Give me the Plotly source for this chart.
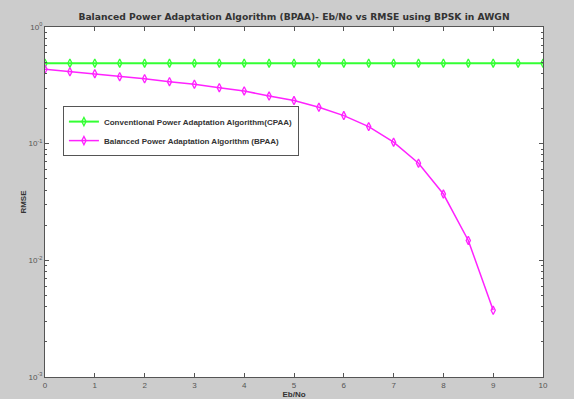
import plotly.graph_objects as go

ebno_cpaa = [0, 0.5, 1, 1.5, 2, 2.5, 3, 3.5, 4, 4.5, 5, 5.5, 6, 6.5, 7, 7.5, 8, 8.5, 9, 9.5, 10]
rmse_cpaa = [0.49] * 21
ebno_bpaa = [0, 0.5, 1, 1.5, 2, 2.5, 3, 3.5, 4, 4.5, 5, 5.5, 6, 6.5, 7, 7.5, 8, 8.5, 9]
rmse_bpaa = [0.434, 0.414, 0.398, 0.375, 0.36, 0.34, 0.323, 0.302, 0.283, 0.256,
             0.234, 0.205, 0.174, 0.14, 0.103, 0.068, 0.037, 0.0148, 0.00373]
x_ticks = list(range(0, 11))
y_tickvals = [1e-3, 1e-2, 1e-1, 1]
y_ticktext = ["10<sup>-3</sup>", "10<sup>-2</sup>", "10<sup>-1</sup>", "10<sup>0</sup>"]
y_minor = [m * d for d in (1e-3, 1e-2, 1e-1) for m in range(2, 10)]

fig = go.Figure()
fig.add_trace(go.Scatter(
    x=ebno_cpaa, y=rmse_cpaa, mode="lines+markers",
    name="<b>Conventional Power Adaptation Algorithm(CPAA)</b>",
    line=dict(color="#33ff33", width=2),
    marker=dict(symbol="diamond-tall-open", size=6, color="#33ff33", line=dict(width=1.3))))
fig.add_trace(go.Scatter(
    x=ebno_bpaa, y=rmse_bpaa, mode="lines+markers",
    name="<b>Balanced Power Adaptation Algorithm (BPAA)</b>",
    line=dict(color="#ff22ff", width=1.5),
    marker=dict(symbol="diamond-tall-open", size=6, color="#ff22ff", line=dict(width=1.3))))

fig.update_layout(
    width=574, height=399,
    paper_bgcolor="#cccccc", plot_bgcolor="white",
    margin=dict(l=45, r=31, t=27, b=22, autoexpand=False),
    hovermode=False,
    font=dict(family="Liberation Sans, Arial", size=8, color="#444444"),
    title=dict(text="<b>Balanced Power Adaptation Algorithm (BPAA)- Eb/No vs RMSE using BPSK in AWGN</b>",
               x=0.5, xref="paper", xanchor="center", y=0.957, yref="container", yanchor="middle",
               font=dict(size=9.2, color="#333333", family="DejaVu Sans"), automargin=False),
    showlegend=True,
    legend=dict(x=0.036, y=0.774, xanchor="left", yanchor="top",
                bgcolor="white", bordercolor="#555555", borderwidth=1,
                font=dict(size=8, color="#333333", family="Liberation Sans"),
                tracegroupgap=0, itemwidth=30),
)
fig.update_xaxes(
    range=[0, 10], tickvals=x_ticks, ticks="inside", ticklen=4, tickcolor="#555555",
    showline=True, linecolor="#555555", mirror="ticks", showgrid=False, zeroline=False,
    automargin=False,
    tickfont=dict(size=8, color="#555555"),
    title=dict(text="<b>Eb/No</b>", standoff=0, font=dict(size=8, color="#333333")))
fig.update_yaxes(
    type="log", range=[-3, 0], tickvals=y_tickvals, ticktext=y_ticktext,
    ticks="inside", ticklen=4, tickcolor="#555555", showline=True, linecolor="#555555", mirror="ticks",
    showgrid=False, zeroline=False, automargin=False,
    minor=dict(tickmode="array", tickvals=y_minor, ticks="inside", ticklen=2,
               tickcolor="#555555", showgrid=False),
    tickfont=dict(size=8, color="#555555"),
    title=dict(text="<b>RMSE</b>", standoff=0, font=dict(size=8, color="#333333")))

fig.write_html("out.html", config={"displayModeBar": False, "staticPlot": True},
               post_script="document.body.style.margin='0';document.body.style.overflow='hidden';")
